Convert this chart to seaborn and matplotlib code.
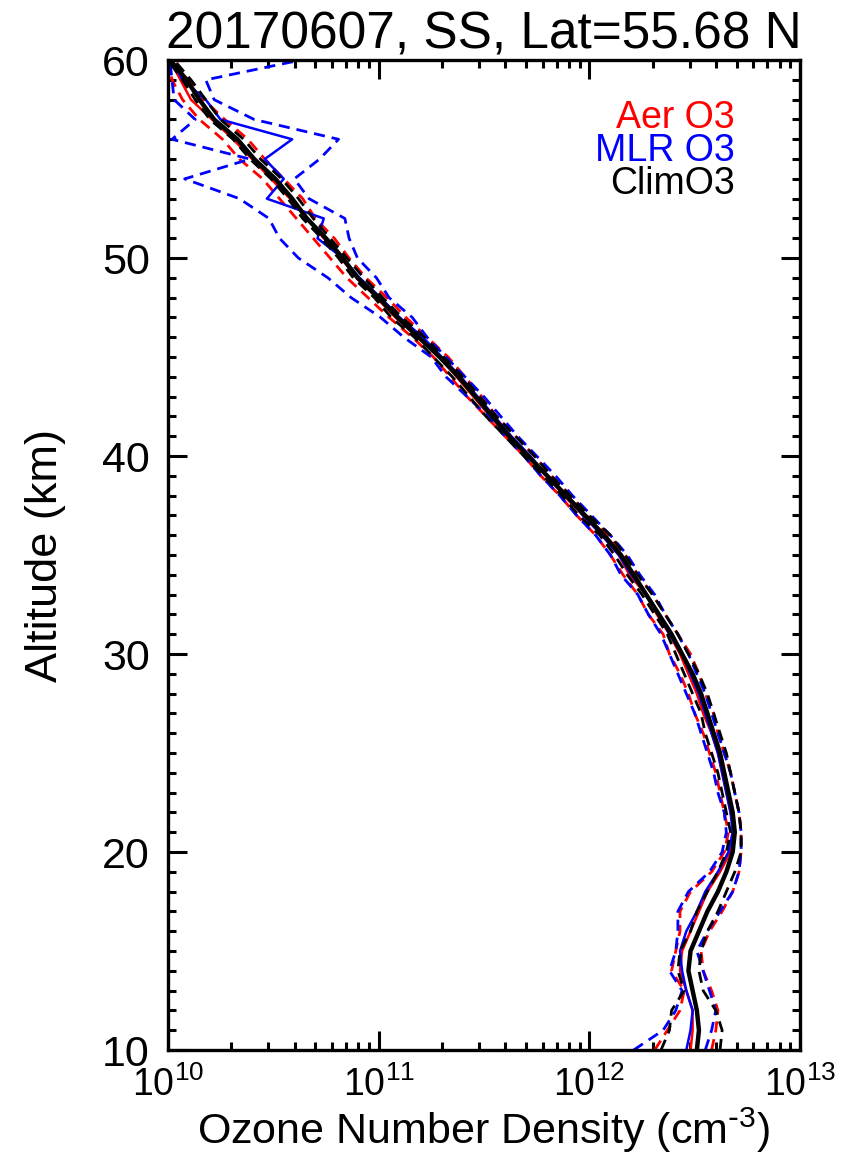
import numpy as np
import matplotlib
matplotlib.use("Agg")
import matplotlib.pyplot as plt
import matplotlib.transforms as mtransforms
from matplotlib.ticker import MultipleLocator, LogLocator
import seaborn as sns

sns.set_theme(style="ticks")
plt.rcParams['font.family'] = ['Liberation Sans', 'DejaVu Sans']
plt.rcParams['mathtext.default'] = 'regular'
plt.rcParams['text.color'] = 'black'
plt.rcParams['axes.labelcolor'] = 'black'

# altitude grid (km) and log10 ozone number density (cm^-3)
altitude = np.arange(10, 61)

clim = [12.51, 12.52, 12.51, 12.49, 12.47, 12.48, 12.52, 12.56, 12.61, 12.65, 12.68,
        12.69, 12.68, 12.66, 12.64, 12.62, 12.59, 12.56, 12.53, 12.49, 12.44,
        12.39, 12.33, 12.27, 12.21, 12.15, 12.07, 11.98, 11.89, 11.80, 11.71,
        11.62, 11.54, 11.46, 11.38, 11.29, 11.19, 11.09, 11.00, 10.90, 10.83,
        10.75, 10.66, 10.59, 10.51, 10.41, 10.33, 10.22, 10.15, 10.09, 10.01]
clim_lo = [12.34, 12.38, 12.39, 12.45, 12.42, 12.43, 12.48, 12.51, 12.56, 12.61, 12.65,
           12.67, 12.65, 12.63, 12.61, 12.58, 12.55, 12.53, 12.49, 12.45, 12.41,
           12.37, 12.31, 12.25, 12.18, 12.12, 12.05, 11.95, 11.87, 11.78, 11.69,
           11.60, 11.51, 11.43, 11.35, 11.26, 11.17, 11.06, 10.98, 10.88, 10.81,
           10.73, 10.64, 10.57, 10.49, 10.39, 10.31, 10.20, 10.13, 10.07, 10.00]
clim_hi = [12.62, 12.63, 12.60, 12.54, 12.52, 12.53, 12.56, 12.61, 12.65, 12.69, 12.72,
           12.72, 12.71, 12.69, 12.67, 12.65, 12.62, 12.59, 12.56, 12.52, 12.47,
           12.42, 12.36, 12.30, 12.23, 12.17, 12.10, 12.00, 11.91, 11.82, 11.74,
           11.65, 11.56, 11.48, 11.40, 11.31, 11.22, 11.11, 11.02, 10.93, 10.85,
           10.77, 10.69, 10.62, 10.54, 10.44, 10.36, 10.25, 10.18, 10.11, 10.03]

aer = [12.48, 12.49, 12.49, 12.46, 12.43, 12.44, 12.48, 12.52, 12.56, 12.62, 12.67,
       12.69, 12.67, 12.65, 12.63, 12.61, 12.58, 12.54, 12.51, 12.47, 12.43,
       12.38, 12.32, 12.27, 12.19, 12.14, 12.06, 11.97, 11.88, 11.80, 11.71,
       11.62, 11.53, 11.45, 11.37, 11.29, 11.19, 11.08, 10.99, 10.90, 10.82,
       10.74, 10.66, 10.58, 10.49, 10.40, 10.31, 10.21, 10.11, 10.06, 10.01]
aer_lo = [12.31, 12.37, 12.43, 12.45, 12.39, 12.41, 12.43, 12.43, 12.48, 12.58, 12.64,
          12.66, 12.64, 12.62, 12.60, 12.57, 12.54, 12.50, 12.47, 12.43, 12.38,
          12.35, 12.28, 12.23, 12.16, 12.10, 12.03, 11.94, 11.86, 11.77, 11.69,
          11.60, 11.51, 11.42, 11.34, 11.26, 11.16, 11.05, 10.95, 10.85, 10.77,
          10.69, 10.61, 10.53, 10.45, 10.34, 10.26, 10.15, 10.07, 10.02, 10.00]
aer_hi = [12.58, 12.60, 12.61, 12.58, 12.54, 12.53, 12.57, 12.63, 12.68, 12.71, 12.72,
          12.72, 12.71, 12.69, 12.67, 12.64, 12.61, 12.59, 12.55, 12.52, 12.48,
          12.42, 12.36, 12.30, 12.23, 12.17, 12.09, 11.99, 11.91, 11.82, 11.74,
          11.65, 11.56, 11.49, 11.41, 11.33, 11.23, 11.13, 11.04, 10.94, 10.86,
          10.79, 10.70, 10.64, 10.55, 10.46, 10.38, 10.27, 10.17, 10.10, 10.03]

mlr = [12.46, 12.48, 12.49, 12.46, 12.44, 12.43, 12.46, 12.51, 12.55, 12.61, 12.66,
       12.68, 12.67, 12.65, 12.63, 12.61, 12.58, 12.55, 12.52, 12.48, 12.44,
       12.38, 12.33, 12.27, 12.20, 12.14, 12.06, 11.97, 11.89, 11.80, 11.72,
       11.63, 11.55, 11.47, 11.39, 11.30, 11.21, 11.10, 11.01, 10.91, 10.83,
       10.71, 10.74, 10.47, 10.55, 10.46, 10.59, 10.25, 10.18, 10.07, 10.02]
mlr_lo = [12.21, 12.35, 12.41, 12.44, 12.38, 12.41, 12.42, 12.42, 12.47, 12.57, 12.63,
          12.65, 12.64, 12.61, 12.59, 12.56, 12.53, 12.50, 12.46, 12.42, 12.38,
          12.34, 12.28, 12.23, 12.15, 12.10, 12.03, 11.94, 11.86, 11.77, 11.69,
          11.60, 11.52, 11.42, 11.32, 11.25, 11.12, 11.01, 10.87, 10.76, 10.62,
          10.53, 10.48, 10.34, 10.08, 10.39, 10.02, 10.13, 10.03, 10.02, 10.01]
mlr_hi = [12.55, 12.58, 12.60, 12.57, 12.54, 12.51, 12.56, 12.62, 12.68, 12.71, 12.72,
          12.72, 12.71, 12.69, 12.67, 12.64, 12.61, 12.58, 12.55, 12.51, 12.47,
          12.42, 12.36, 12.31, 12.24, 12.18, 12.10, 12.01, 11.92, 11.84, 11.75,
          11.66, 11.58, 11.50, 11.41, 11.32, 11.23, 11.16, 11.05, 10.99, 10.90,
          10.86, 10.84, 10.67, 10.60, 10.72, 10.81, 10.41, 10.22, 10.18, 10.63]

fig = plt.figure(figsize=(8.65, 11.6), dpi=100)
ax = fig.add_axes([0.194, 0.0948, 0.731, 0.8534])

dash = (0, (4, 2.5))
groups = [
    ("red", aer, aer_lo, aer_hi, 1.8),
    ("blue", mlr, mlr_lo, mlr_hi, 1.8),
    ("black", clim, clim_lo, clim_hi, 3.2),
]
for color, mid, lo, hi, lw in groups:
    for band in (lo, hi):
        sns.lineplot(x=10 ** np.array(band), y=altitude, sort=False, estimator=None,
                     color=color, lw=2.0, linestyle=dash, legend=False, ax=ax)
    sns.lineplot(x=10 ** np.array(mid), y=altitude, sort=False, estimator=None,
                 color=color, lw=lw, legend=False, ax=ax)

ax.set_xscale("log")
ax.set_xlim(1e10, 1e13)
ax.set_ylim(10, 60)
ax.yaxis.set_major_locator(MultipleLocator(10))
ax.yaxis.set_minor_locator(MultipleLocator(1))
ax.xaxis.set_major_locator(LogLocator(base=10, numticks=10))
ax.xaxis.set_minor_locator(LogLocator(base=10, subs=np.arange(2, 10), numticks=20))

ax.tick_params(which="both", direction="in", top=True, right=True, width=2.2,
               colors="black", labelcolor="black")
ax.tick_params(which="major", length=14)
ax.tick_params(which="minor", length=6)
ax.tick_params(axis="y", which="major", labelsize=31, pad=13)
ax.tick_params(axis="x", which="major", labelsize=27, pad=12)
for s in ax.spines.values():
    s.set_linewidth(2.4)
    s.set_color("black")

# lift the lowest altitude label a little, as in the original
lowest = ax.yaxis.get_major_ticks()[0].label1
lowest.set_transform(lowest.get_transform()
                     + mtransforms.ScaledTranslation(0, 0.09, fig.dpi_scale_trans))

ax.set_xlabel(r"Ozone Number Density (cm$^{\text{-}3}$)", fontsize=31)
ax.xaxis.set_label_coords(0.5, -0.0565)
ax.set_ylabel("Altitude (km)", fontsize=32.5, labelpad=26)
ax.set_title("20170607, SS, Lat=55.68 N", fontsize=37, pad=8)

legend_items = [("Aer O3", "red"), ("MLR O3", "blue"), ("ClimO3", "black")]
for i, (txt, c) in enumerate(legend_items):
    ax.text(0.897, 0.941 - i * 0.033, txt, color=c, fontsize=27, ha="right", va="center",
            transform=ax.transAxes)

fig.savefig("out.png", dpi=100)
